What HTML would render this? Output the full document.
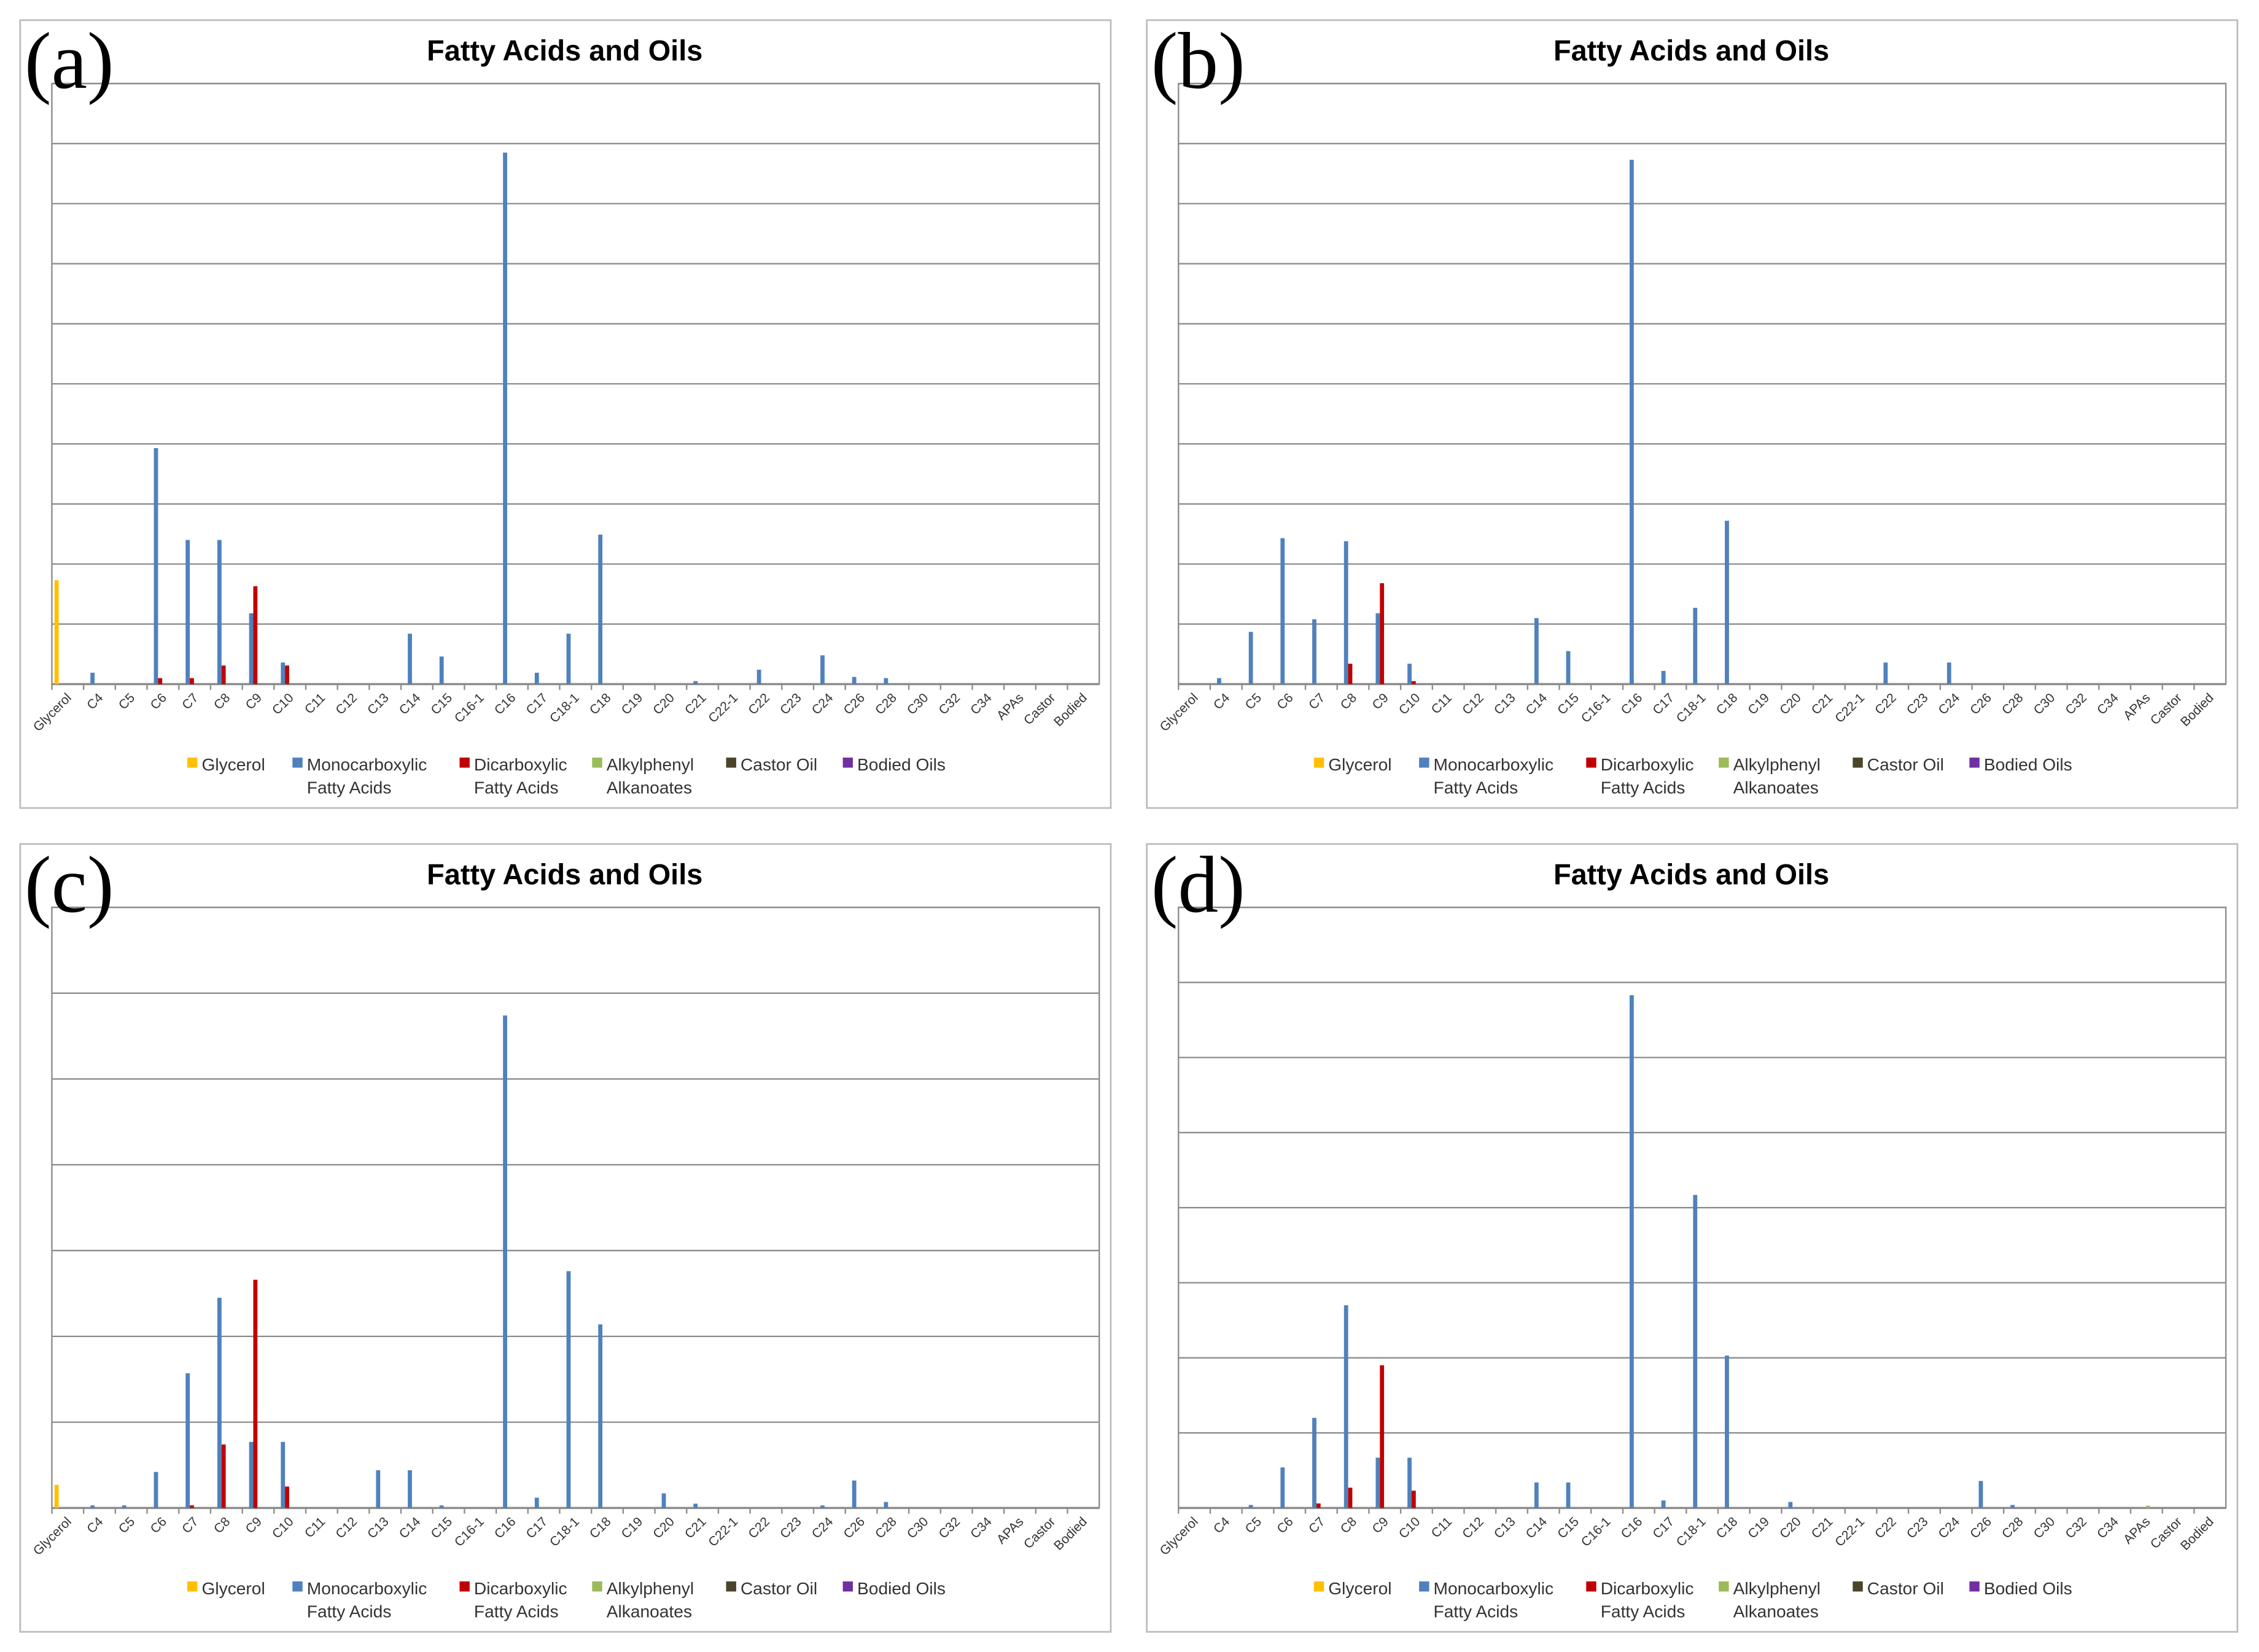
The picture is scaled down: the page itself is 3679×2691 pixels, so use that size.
<!DOCTYPE html>
<html><head><meta charset="utf-8"><style>
html,body{margin:0;padding:0;background:#fff;}
svg{display:block;}
text{font-family:"Liberation Sans",sans-serif;}
</style></head><body>
<svg id="chart" width="3679" height="2691" viewBox="0 0 1568 1147" preserveAspectRatio="none" xmlns="http://www.w3.org/2000/svg"></svg>
<script>
const categories = ["Glycerol","C4","C5","C6","C7","C8","C9","C10","C11","C12","C13","C14","C15","C16-1","C16","C17","C18-1","C18","C19","C20","C21","C22-1","C22","C23","C24","C26","C28","C30","C32","C34","APAs","Castor","Bodied"];
const seriesNames = ["Glycerol","Monocarboxylic|Fatty Acids","Dicarboxylic|Fatty Acids","Alkylphenyl|Alkanoates","Castor Oil","Bodied Oils"];
const seriesColors = ["#FFC000","#4F81BD","#C00000","#9BBB59","#4A452A","#7030A0"];
const panelLabels = ["(a)","(b)","(c)","(d)"];
const panelGridCounts = [10,10,7,8];
// values in gridline units: [category, series, value]
const valuesA = [["Glycerol",0,1.73],["C4",1,0.19],["C6",1,3.93],["C6",2,0.1],["C7",1,2.4],["C7",2,0.1],["C8",1,2.4],["C8",2,0.31],["C9",1,1.18],["C9",2,1.63],["C10",1,0.36],["C10",2,0.31],["C14",1,0.84],["C15",1,0.46],["C16",1,8.85],["C17",1,0.19],["C18-1",1,0.84],["C18",1,2.49],["C21",1,0.05],["C22",1,0.24],["C24",1,0.48],["C26",1,0.12],["C28",1,0.1]];
const valuesB = [["C4",1,0.1],["C5",1,0.87],["C6",1,2.43],["C7",1,1.08],["C8",1,2.38],["C8",2,0.34],["C9",1,1.18],["C9",2,1.68],["C10",1,0.34],["C10",2,0.05],["C14",1,1.1],["C15",1,0.55],["C16",1,8.73],["C17",1,0.22],["C18-1",1,1.27],["C18",1,2.72],["C22",1,0.36],["C24",1,0.36]];
const valuesC = [["Glycerol",0,0.27],["C4",1,0.03],["C5",1,0.03],["C6",1,0.42],["C7",1,1.57],["C7",2,0.03],["C8",1,2.45],["C8",2,0.74],["C9",1,0.77],["C9",2,2.66],["C10",1,0.77],["C10",2,0.25],["C13",1,0.44],["C14",1,0.44],["C15",1,0.03],["C16",1,5.74],["C17",1,0.12],["C18-1",1,2.76],["C18",1,2.14],["C20",1,0.17],["C21",1,0.05],["C24",1,0.03],["C26",1,0.32],["C28",1,0.07]];
const valuesD = [["C5",1,0.04],["C6",1,0.54],["C7",1,1.2],["C7",2,0.06],["C8",1,2.7],["C8",2,0.27],["C9",1,0.67],["C9",2,1.9],["C10",1,0.67],["C10",2,0.23],["C14",1,0.34],["C15",1,0.34],["C16",1,6.83],["C17",1,0.1],["C18-1",1,4.17],["C18",1,2.03],["C20",1,0.08],["C26",1,0.36],["C28",1,0.04],["APAs",3,0.03]];
const allValues = [valuesA,valuesB,valuesC,valuesD];

const NS="http://www.w3.org/2000/svg";
const svg=document.getElementById('chart');
function mk(tag,attrs,parent){const e=document.createElementNS(NS,tag);for(const k in attrs)e.setAttribute(k,attrs[k]);(parent||svg).appendChild(e);return e;}
const panels=[{x:14,y:14},{x:796,y:14},{x:14,y:586},{x:796,y:586}];
panels.forEach((p,pi)=>{
  const g=mk('g',{});
  
  
  const border=mk('rect',{x:p.x,y:p.y,width:757,height:547,fill:'#fff',stroke:'#bdbdbd','stroke-width':1.2},g);
  
  
  const t=mk('text',{x:p.x+378,y:p.y+28,'font-size':20,'font-weight':'bold','text-anchor':'middle'},g);
  t.textContent='Fatty Acids and Oils';
  
  
  const L=p.x+22,R=p.x+749,T=p.y+44,B=p.y+461;
  const n=panelGridCounts[pi];
  const yS=v=>B-v*(B-T)/n;
  const catW=(R-L)/categories.length;
  const xC=c=>L+(categories.indexOf(c)+0.5)*catW;
  mk('rect',{x:L,y:T,width:R-L,height:B-T,fill:'none',stroke:'#8c8c8c','stroke-width':1},g);
  for(let i=1;i<=n;i++){const gl=mk('line',{x1:L,x2:R,y1:yS(i),y2:yS(i),stroke:'#8c8c8c','stroke-width':1},g);
    
    }
  const ax=mk('line',{x1:L,x2:R,y1:B,y2:B,stroke:'#8c8c8c','stroke-width':1.5},g);
  
  
  categories.forEach((c,i)=>{
    mk('line',{x1:L+i*catW,x2:L+i*catW,y1:B,y2:B+4,stroke:'#8c8c8c'},g);
    const tx=xC(c)+3, ty=B+10;
    const tl=mk('text',{x:tx,y:ty,'font-size':9,'text-anchor':'end',fill:'#333',transform:`rotate(-45 ${tx} ${ty})`},g);
    tl.textContent=c;
    
    
  });
  const bw=2.9;
  allValues[pi].forEach(([c,s,v])=>{
    const x=xC(c)+(s-2.5)*bw-bw/2-0.5;
    const r=mk('rect',{x:x,y:yS(v),width:bw,height:B-yS(v),fill:seriesColors[s]},g);
    
    
  });
  const lbl=mk('text',{x:p.x+3,y:p.y+47,'font-size':56},g);
  lbl.textContent=panelLabels[pi];
  
  
  lbl.style.fontFamily='"Liberation Serif",serif';
  const lx=[p.x+116,p.x+189,p.x+305,p.x+397,p.x+490,p.x+571];
  seriesNames.forEach((s,i)=>{
    const lg=mk('g',{},g);
    
    
    mk('rect',{x:lx[i],y:p.y+512,width:7,height:7,fill:seriesColors[i]},lg);
    s.split('|').forEach((line,k)=>{
      const tt=mk('text',{x:lx[i]+10,y:p.y+521+k*16,'font-size':12,fill:'#333'},lg);
      tt.textContent=line;
    });
  });
});
</script>
</body></html>
